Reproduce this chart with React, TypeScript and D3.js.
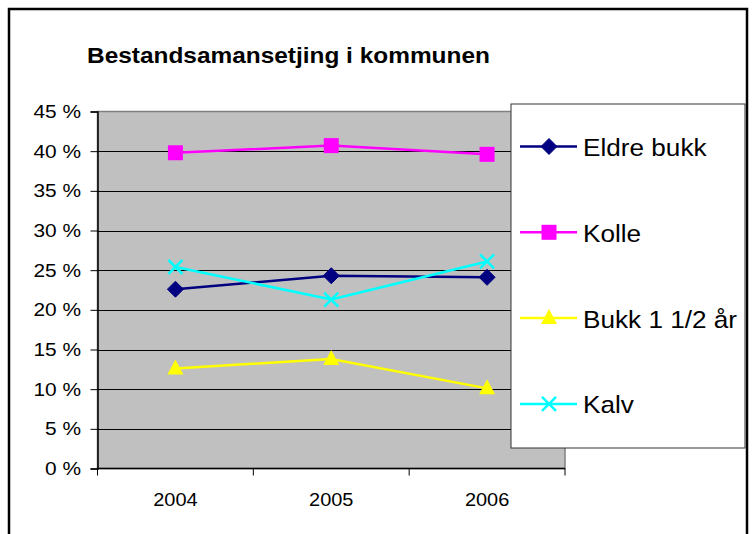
import { useEffect, useRef } from "react"
import * as d3 from "d3"

const years = ["2004", "2005", "2006"]
const yTicks = [0, 0.05, 0.1, 0.15, 0.2, 0.25, 0.3, 0.35, 0.4, 0.45]

const seriesNames = ["Eldre bukk", "Kolle", "Bukk 1 1/2 år", "Kalv"]
const eldreBukk = [0.226, 0.243, 0.241]
const kolle = [0.398, 0.407, 0.396]
const bukk = [0.126, 0.138, 0.101]
const kalv = [0.254, 0.213, 0.261]

const colors = ["#000080", "#FF00FF", "#FFFF00", "#00FFFF"]
const markers = ["diamond", "square", "triangle", "cross"]

const FONT = "'Liberation Sans', Arial, sans-serif"

const App = () => {
  const svgRef = useRef<SVGSVGElement | null>(null)

  useEffect(() => {
    if (!svgRef.current) return
    const svg = d3.select(svgRef.current)
    svg.selectAll("*").remove()

    const width = 752
    const height = 534
    const plot = { left: 97.5, top: 111.5, right: 565, bottom: 468.5 }

    const series = [eldreBukk, kolle, bukk, kalv].map((values, i) => ({
      name: seriesNames[i],
      color: colors[i],
      marker: markers[i],
      values,
    }))

    // text helper: the original's lettering is a bit wider than Arial
    const label = (
      parent: d3.Selection<any, unknown, null, undefined>,
      x: number,
      y: number,
      txt: string,
      size: number,
      sx: number,
      anchor = "start",
      bold = false,
    ) =>
      parent
        .append("text")
        .attr("transform", `translate(${x},${y}) scale(${sx},1)`)
        .attr("text-anchor", anchor)
        .attr("font-family", FONT)
        .attr("font-size", size)
        .attr("font-weight", bold ? "bold" : "normal")
        .attr("fill", "#000")
        .text(txt)

    // background + outer frame
    svg.append("rect").attr("width", width).attr("height", height).attr("fill", "#fff")
    svg
      .append("rect")
      .attr("x", 9)
      .attr("y", 9)
      .attr("width", 738)
      .attr("height", 540)
      .attr("fill", "none")
      .attr("stroke", "#000")
      .attr("stroke-width", 2.5)

    const x = d3.scaleBand<string>().domain(years).range([plot.left, plot.right])
    const y = d3.scaleLinear().domain([0, 0.45]).range([plot.bottom, plot.top])

    // plot area
    svg
      .append("rect")
      .attr("x", plot.left)
      .attr("y", plot.top)
      .attr("width", plot.right - plot.left)
      .attr("height", plot.bottom - plot.top)
      .attr("fill", "#C0C0C0")
      .attr("stroke", "#808080")
      .attr("stroke-width", 1.5)

    // grid lines
    svg
      .append("g")
      .selectAll("line")
      .data(yTicks.filter((t) => t > 0 && t < 0.45))
      .join("line")
      .attr("x1", plot.left)
      .attr("x2", plot.right)
      .attr("y1", (d) => Math.round(y(d)) + 0.5)
      .attr("y2", (d) => Math.round(y(d)) + 0.5)
      .attr("stroke", "#000")
      .attr("stroke-width", 1)

    // y axis
    const yAxis = svg
      .append("g")
      .attr("transform", `translate(${plot.left},0)`)
      .call(d3.axisLeft(y).tickValues(yTicks).tickSize(7).tickFormat(() => ""))
    yAxis.select(".domain").attr("stroke", "#000").attr("stroke-width", 1.5)
    yAxis.selectAll(".tick line").attr("stroke", "#000")
    yTicks.forEach((t) => label(svg, 81, y(t) + 6.5, `${Math.round(t * 100)} %`, 18, 1.16, "end"))

    // x axis
    const xAxis = svg.append("g").attr("transform", `translate(0,${plot.bottom})`)
    xAxis
      .append("line")
      .attr("x1", plot.left)
      .attr("x2", plot.right)
      .attr("stroke", "#000")
      .attr("stroke-width", 1.5)
    const boundaries = [...years.map((yr) => x(yr) as number), plot.right]
    xAxis
      .selectAll(".xtick")
      .data(boundaries)
      .join("line")
      .attr("x1", (d) => d)
      .attr("x2", (d) => d)
      .attr("y1", 0)
      .attr("y2", 7)
      .attr("stroke", "#000")
    years.forEach((yr) => label(svg, (x(yr) as number) + x.bandwidth() / 2, 506, yr, 19, 1.05, "middle"))

    const drawMarker = (g: d3.Selection<SVGGElement, unknown, null, undefined>, kind: string, color: string) => {
      if (kind === "diamond") {
        g.append("path").attr("d", "M0,-8L8,0L0,8L-8,0Z").attr("fill", color).attr("stroke", color)
      } else if (kind === "square") {
        g.append("rect").attr("x", -7.5).attr("y", -7.5).attr("width", 15).attr("height", 15).attr("fill", color)
      } else if (kind === "triangle") {
        g.append("path").attr("d", "M0,-9L8,6L-8,6Z").attr("fill", color)
      } else {
        g.append("path")
          .attr("d", "M-7,-7L7,7M-7,7L7,-7")
          .attr("stroke", color)
          .attr("stroke-width", 2.5)
          .attr("fill", "none")
      }
    }

    const line = d3
      .line<number>()
      .x((_, i) => (x(years[i]) as number) + x.bandwidth() / 2)
      .y((d) => y(d))

    series.forEach((s) => {
      svg
        .append("path")
        .datum(s.values)
        .attr("d", line)
        .attr("fill", "none")
        .attr("stroke", s.color)
        .attr("stroke-width", 2.5)
      s.values.forEach((v, i) => {
        const g = svg
          .append("g")
          .attr("transform", `translate(${(x(years[i]) as number) + x.bandwidth() / 2},${y(v)})`)
        drawMarker(g, s.marker, s.color)
      })
    })

    // title
    label(svg, 87, 62.5, "Bestandsamansetjing i kommunen", 22, 1.11, "start", true)

    // legend
    const legend = svg.append("g")
    legend
      .append("rect")
      .attr("x", 511)
      .attr("y", 104)
      .attr("width", 234)
      .attr("height", 344)
      .attr("fill", "#fff")
      .attr("stroke", "#333")
      .attr("stroke-width", 1)

    series.forEach((s, i) => {
      const cy = 146.5 + i * 85.8
      const row = legend.append("g").attr("transform", `translate(0,${cy})`)
      row
        .append("line")
        .attr("x1", 520)
        .attr("x2", 577)
        .attr("stroke", s.color)
        .attr("stroke-width", 2.5)
      const m = row.append("g").attr("transform", "translate(549,0)")
      drawMarker(m, s.marker, s.color)
      label(row, 583, 9.5, s.name, 24, 1.09)
    })
  }, [])

  return (
    <svg
      ref={svgRef}
      width={752}
      height={534}
      style={{ position: "absolute", left: 0, top: 0, display: "block" }}
    />
  )
}

export default App
